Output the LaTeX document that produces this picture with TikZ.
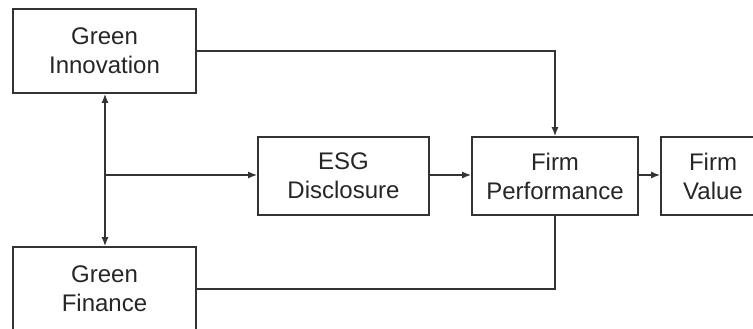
\documentclass[tikz,border=0pt]{standalone}
\usepackage{fontspec}
\setmainfont{Liberation Sans}
\usetikzlibrary{arrows.meta}
\begin{document}
\begin{tikzpicture}[x=1pt,y=-1pt,
  box/.style={draw=black!80,line width=1.6pt,inner sep=0pt,align=center,
    font=\fontsize{24}{29}\selectfont,text=black!85},
  conn/.style={draw=black!80,line width=1.6pt,-{Latex[length=9pt,width=7pt]}},
  plain/.style={draw=black!80,line width=1.6pt}]
\useasboundingbox[fill=white] (0,0) rectangle (753,329);
\node[box,minimum width=183pt,minimum height=84pt] (gi) at (104.5,51) {Green\\Innovation};
\node[box,minimum width=183pt,minimum height=84pt] (gf) at (104.5,289) {Green\\Finance};
\node[box,minimum width=171pt,minimum height=78pt] (esg) at (343.5,176) {ESG\\Disclosure};
\node[box,minimum width=166pt,minimum height=78pt] (fp) at (555,176) {Firm\\Performance};
\node[box,minimum width=104pt,minimum height=78pt] (fv) at (713,176) {Firm\\Value};
\coordinate (split) at (105,175);
\draw[conn,{Latex[length=9pt,width=7pt]}-{Latex[length=9pt,width=7pt]}] (gi.south -| split) -- (gf.north -| split);
\draw[conn] (split) -- (split -| esg.west);
\draw[conn] (gi.east) -| (fp.north);
\draw[plain] (gf.east) -| (fp.south);
\draw[conn] (esg.east |- split) -- (split -| fp.west);
\draw[conn] (fp.east |- split) -- (split -| fv.west);
\end{tikzpicture}
\end{document}
